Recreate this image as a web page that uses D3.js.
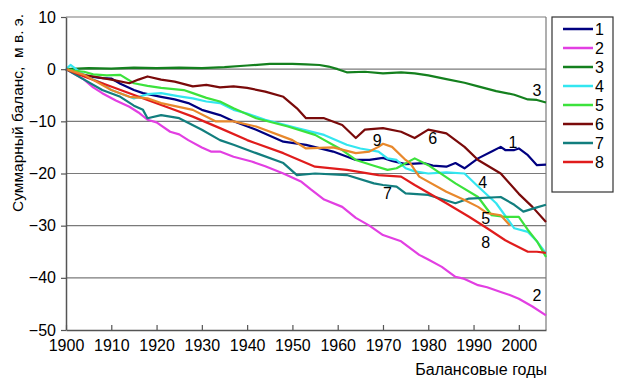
<!DOCTYPE html>
<html>
<head>
<meta charset="utf-8">
<script src="https://cdn.jsdelivr.net/npm/d3@7"></script>
<style>
  body { margin: 0; background: #fff; }
  text { font-family: "Liberation Sans", Arial, sans-serif; fill: #000; }
</style>
</head>
<body>
<svg id="chart" width="622" height="389"></svg>
<script>
// Cumulative mass balance per glacier ([year, m w.e.])
const series1 = [[1900,0],[1903,-1],[1906,-1.5],[1908,-1.7],[1910,-1.8],[1912,-2.8],[1915,-4],[1917,-4.6],[1921,-5.3],[1924,-5.8],[1927,-6.5],[1930,-7.8],[1934,-8.8],[1937,-10],[1942,-11.6],[1948,-13.9],[1953,-14.5],[1959,-15.8],[1964,-17.4],[1967,-17.4],[1970,-17],[1972,-17.6],[1975,-18.2],[1979,-18],[1981,-18.5],[1984,-18.7],[1986,-18],[1988,-19],[1991,-17.1],[1994,-15.8],[1996,-14.9],[1997,-15.5],[1999,-15.5],[2000,-15.2],[2002,-16.5],[2004,-18.4],[2006,-18.3]];
const series2 = [[1900,0],[1902,-1],[1904,-2],[1906,-3.5],[1908,-4.6],[1911,-6],[1914,-7.2],[1916,-8.3],[1918,-9.7],[1920,-10.2],[1923,-12],[1925,-12.5],[1927,-13.6],[1930,-15],[1932,-15.8],[1934,-15.8],[1937,-16.8],[1941,-17.7],[1944,-18.6],[1948,-20],[1952,-21.6],[1954,-23],[1957,-25],[1961,-26.4],[1964,-28.5],[1967,-30],[1970,-31.8],[1974,-33],[1978,-35.6],[1980,-36.5],[1983,-37.9],[1986,-39.8],[1988,-40.2],[1991,-41.4],[1993,-41.8],[1996,-42.7],[1998,-43.3],[2000,-44],[2003,-45.5],[2006,-47.2]];
const series3 = [[1900,0],[1905,0.2],[1910,0.1],[1915,0.3],[1920,0.2],[1925,0.3],[1930,0.2],[1935,0.4],[1940,0.7],[1945,1],[1950,1],[1953,0.9],[1956,0.8],[1958,0.5],[1960,0],[1962,-0.6],[1966,-0.5],[1970,-0.8],[1974,-0.6],[1977,-0.8],[1980,-1.2],[1984,-1.9],[1988,-2.6],[1991,-3.3],[1995,-4.2],[1999,-4.9],[2002,-5.8],[2004,-5.9],[2006,-6.4]];
const series4 = [[1900,0],[1901,0.8],[1903,-0.5],[1906,-2],[1908,-2.7],[1910,-4],[1914,-5.3],[1915,-5.6],[1918,-4.8],[1921,-4.6],[1925,-5.2],[1928,-5.6],[1931,-6.2],[1934,-6.5],[1937,-7.8],[1940,-8.5],[1944,-9.7],[1951,-11.3],[1957,-12.6],[1962,-14.5],[1965,-15.2],[1969,-15.8],[1971,-17.1],[1973,-17.4],[1975,-19],[1977,-19.6],[1980,-20],[1984,-19.8],[1988,-20],[1991,-22.5],[1995,-25.7],[1999,-30.5],[2002,-31.2],[2004,-33],[2006,-35.3]];
const series5 = [[1900,0],[1902,-0.3],[1904,-0.5],[1906,-1],[1909,-1.2],[1912,-1.1],[1915,-2.7],[1918,-3.2],[1921,-3.6],[1926,-4],[1928,-4.6],[1931,-5.5],[1934,-6.2],[1937,-7.5],[1942,-9.4],[1949,-11],[1955,-12.6],[1961,-15.5],[1964,-17.4],[1968,-18.5],[1971,-19.3],[1973,-19],[1977,-17.1],[1980,-18.4],[1986,-21.9],[1991,-24.5],[1994,-28],[1997,-28.3],[2000,-28.3],[2002,-30.8],[2004,-33],[2006,-36]];
const series6 = [[1900,0],[1903,-1],[1906,-1.4],[1910,-2],[1914,-2.7],[1916,-2],[1918,-1.4],[1921,-2],[1924,-2.4],[1928,-3.3],[1931,-3],[1934,-3.5],[1937,-3.3],[1940,-3.6],[1944,-4.3],[1948,-5.3],[1951,-7.5],[1953,-9.4],[1957,-9.4],[1961,-10.7],[1964,-13.2],[1966,-11.6],[1970,-11.3],[1974,-12],[1977,-13.2],[1980,-11.6],[1984,-12.3],[1988,-14.9],[1991,-17.4],[1996,-20],[2000,-23.9],[2003,-26.4],[2006,-29.3]];
const series7 = [[1900,0],[1901,-0.5],[1904,-2],[1908,-4],[1912,-5.3],[1915,-7],[1917,-7.8],[1918,-9.4],[1921,-8.8],[1925,-9.4],[1930,-11.6],[1934,-13.6],[1937,-14.5],[1942,-16.1],[1948,-18],[1951,-20.3],[1955,-20],[1962,-20.3],[1968,-21.9],[1970,-22.2],[1973,-22.5],[1975,-23.8],[1980,-24.1],[1986,-25.7],[1989,-24.8],[1996,-24.5],[1999,-26],[2001,-27.3],[2004,-26.5],[2006,-26]];
const series8 = [[1900,0],[1904,-1.4],[1908,-2.7],[1914,-4.6],[1918,-5.9],[1923,-7.5],[1928,-9.1],[1934,-11.3],[1940,-13.6],[1948,-16.1],[1955,-18.7],[1962,-19.3],[1969,-20.3],[1974,-20.6],[1977,-22.2],[1984,-25.7],[1989,-28.3],[1993,-30.5],[1997,-32.8],[2002,-35],[2004,-35],[2006,-35.2]];
const series9 = [[1900,0],[1904,-1.1],[1910,-4],[1914,-5.3],[1918,-5.6],[1921,-6.5],[1928,-7.8],[1933,-10],[1937,-10],[1942,-11],[1950,-13.6],[1953,-15.2],[1959,-15],[1964,-16.1],[1967,-15.8],[1969,-14.9],[1970,-14.3],[1972,-14.9],[1975,-17.4],[1976,-18],[1978,-20.6],[1984,-23.5],[1988,-25.1],[1991,-26.4],[1993,-27.6],[1996,-28],[1998,-29.9]];

const seriesNames = ['1', '2', '3', '4', '5', '6', '7', '8', '9'];
const seriesColors = ['#000080', '#e23fe2', '#14801e', '#33e6f0', '#3ce23c', '#7a0a0a', '#127e7e', '#e01c1c', '#e8882c'];
const allSeries = [series1, series2, series3, series4, series5, series6, series7, series8, series9];
const legendNames = ['1', '2', '3', '4', '5', '6', '7', '8'];

const xTicks = d3.range(1900, 2001, 10);
const yTicks = d3.range(-50, 11, 10);

// in-plot labels: [series index, year, value]
const curveLabels = [[0, 1998.7, -14.1], [1, 2004, -43.3], [2, 2004, -4], [3, 1992, -21.8], [4, 1992.7, -28.7], [5, 1981, -13.2], [6, 1971, -23.9], [7, 1992.7, -33.3], [8, 1968.7, -13.6]];

const svg = d3.select('#chart');
const margin = { left: 66, top: 17, right: 76, bottom: 59 };
const width = 622 - margin.left - margin.right;
const height = 389 - margin.top - margin.bottom;

const x = d3.scaleLinear().domain([1900, 2006]).range([0, width]);
const y = d3.scaleLinear().domain([-50, 10]).range([height, 0]);

const g = svg.append('g').attr('transform', `translate(${margin.left},${margin.top})`);

// grid lines
g.selectAll('line.grid')
  .data(yTicks.filter(d => d > -50))
  .enter()
  .append('line')
  .attr('class', 'grid')
  .attr('x1', 0)
  .attr('x2', width)
  .attr('y1', d => y(d))
  .attr('y2', d => y(d))
  .attr('stroke', '#7a7a7a')
  .attr('stroke-width', 1.2);

// right border
g.append('line')
  .attr('x1', width).attr('x2', width)
  .attr('y1', 0).attr('y2', height)
  .attr('stroke', '#7a7a7a')
  .attr('stroke-width', 1.2);

const line = d3.line()
  .x(d => x(d[0]))
  .y(d => y(d[1]));

g.selectAll('path.series')
  .data(allSeries)
  .enter()
  .append('path')
  .attr('class', 'series')
  .attr('d', line)
  .attr('fill', 'none')
  .attr('stroke', (d, i) => seriesColors[i])
  .attr('stroke-width', 2.2)
  .attr('stroke-linejoin', 'round');

// axes
const xAxis = d3.axisBottom(x).tickValues(xTicks).tickFormat(d3.format('d')).tickSizeInner(-5).tickSizeOuter(0).tickPadding(10);
const xg = g.append('g').attr('transform', `translate(0,${height})`).call(xAxis);
xg.select('.domain').attr('stroke', '#555').attr('stroke-width', 1.5);
xg.selectAll('.tick line').attr('stroke', '#555').attr('stroke-width', 1.2);
xg.selectAll('.tick text').attr('font-size', 16).attr('font-family', '"Liberation Sans", Arial, sans-serif').attr('dy', '0.71em');

const yAxis = d3.axisLeft(y).tickValues(yTicks).tickSizeInner(5).tickSizeOuter(0).tickPadding(5);
const yg = g.append('g').call(yAxis);
yg.select('.domain').attr('stroke', '#555').attr('stroke-width', 1.5);
yg.selectAll('.tick line').attr('stroke', '#555').attr('stroke-width', 1.2);
yg.selectAll('.tick text').attr('font-size', 16).attr('font-family', '"Liberation Sans", Arial, sans-serif');

// curve numbers
g.selectAll('text.curve')
  .data(curveLabels)
  .enter()
  .append('text')
  .attr('class', 'curve')
  .attr('x', d => x(d[1]))
  .attr('y', d => y(d[2]))
  .attr('text-anchor', 'middle')
  .attr('dominant-baseline', 'central')
  .attr('font-size', 16)
  .text(d => seriesNames[d[0]]);

// axis titles
svg.append('text')
  .attr('x', margin.left + width + 1)
  .attr('y', 375)
  .attr('text-anchor', 'end')
  .attr('font-size', 16)
  .text('Балансовые годы');

svg.append('text')
  .attr('transform', 'translate(23,113) rotate(-90)')
  .attr('text-anchor', 'middle')
  .attr('font-size', 15.5)
  .attr('xml:space', 'preserve')
  .style('white-space', 'pre')
  .text('Суммарный баланс,  м в. э.');

// legend
const legend = svg.append('g').attr('transform', 'translate(552,17)');
legend.append('rect')
  .attr('width', 61)
  .attr('height', 175)
  .attr('fill', '#fff')
  .attr('stroke', '#333')
  .attr('stroke-width', 1.2);

const rows = legend.selectAll('g.row')
  .data(legendNames)
  .enter()
  .append('g')
  .attr('class', 'row')
  .attr('transform', (d, i) => `translate(0,${12 + i * 19})`);

rows.append('line')
  .attr('x1', 11).attr('x2', 41)
  .attr('stroke', (d, i) => seriesColors[i])
  .attr('stroke-width', 2.5);

rows.append('text')
  .attr('x', 43)
  .attr('dominant-baseline', 'central')
  .attr('font-size', 16)
  .text(d => d);
</script>
</body>
</html>
